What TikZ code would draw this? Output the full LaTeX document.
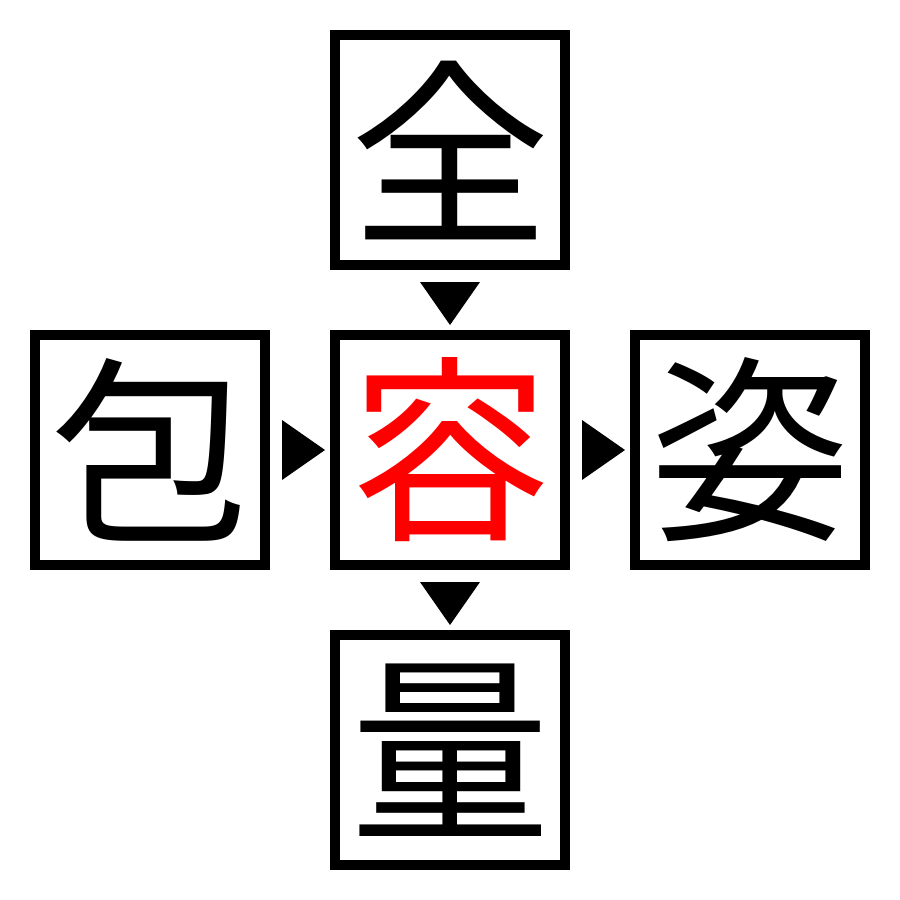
\documentclass[tikz,border=0pt]{standalone}
\usepackage{fontspec}
\newfontfamily\cjk{Noto Sans CJK JP}
\usetikzlibrary{calc}
\begin{document}
\begin{tikzpicture}[x=1pt,y=-1pt,
  charbox/.style={draw=black,line width=10pt,minimum width=230pt,minimum height=230pt,inner sep=0pt,outer sep=0pt,font=\cjk\fontsize{200}{200}\selectfont},
  tri/.style={fill=black}]
\useasboundingbox (0,0) rectangle (900,900);
\fill[white] (0,0) rectangle (900,900);
\node[charbox] (top) at (450,150) {全};
\node[charbox] (left) at (150,450) {包};
\node[charbox,text=red] (center) at (450,450) {容};
\node[charbox] (right) at (750,450) {姿};
\node[charbox] (bottom) at (450,750) {量};
% arrows
\fill[tri] (420,282) -- (480,282) -- (450,325) -- cycle;
\fill[tri] (420,582) -- (480,582) -- (450,625) -- cycle;
\fill[tri] (282,420) -- (282,480) -- (325,450) -- cycle;
\fill[tri] (582,420) -- (582,480) -- (625,450) -- cycle;
\end{tikzpicture}
\end{document}
